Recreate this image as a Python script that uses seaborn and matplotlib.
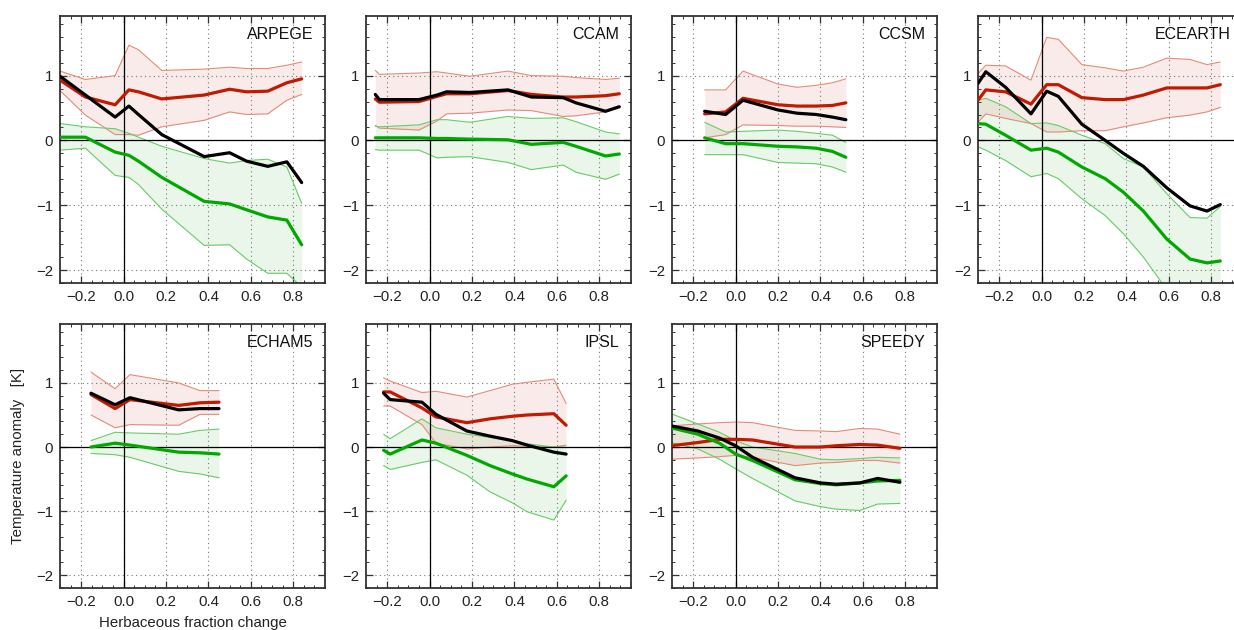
import numpy as np
import pandas as pd
import matplotlib
matplotlib.use("Agg")
import matplotlib.pyplot as plt
from matplotlib.ticker import FixedLocator, MultipleLocator, FuncFormatter
import seaborn as sns

# ---------------- data ----------------
models = ["ARPEGE", "CCAM", "CCSM", "ECEARTH", "ECHAM5", "IPSL", "SPEEDY"]

ARPEGE_x = [-0.30, -0.18, -0.04, 0.025, 0.07, 0.18, 0.38, 0.50, 0.58, 0.68, 0.77, 0.84]
ARPEGE_red = [0.93, 0.67, 0.55, 0.78, 0.75, 0.64, 0.70, 0.79, 0.75, 0.76, 0.89, 0.95]
ARPEGE_red_hi = [1.07, 0.94, 1.00, 1.47, 1.40, 1.08, 1.10, 1.13, 1.11, 1.11, 1.16, 1.21]
ARPEGE_red_lo = [0.77, 0.39, 0.09, 0.09, 0.08, 0.21, 0.31, 0.44, 0.40, 0.41, 0.62, 0.71]
ARPEGE_black = [0.99, 0.70, 0.36, 0.53, 0.40, 0.09, -0.25, -0.19, -0.32, -0.40, -0.33, -0.65]
ARPEGE_green = [0.05, 0.05, -0.18, -0.23, -0.32, -0.57, -0.94, -0.98, -1.07, -1.18, -1.23, -1.61]
ARPEGE_green_hi = [0.26, 0.21, 0.18, 0.11, 0.05, -0.09, -0.28, -0.35, -0.31, -0.29, -0.41, -0.97]
ARPEGE_green_lo = [-0.15, -0.12, -0.54, -0.57, -0.68, -1.06, -1.62, -1.61, -1.83, -2.05, -2.05, -2.26]

CCAM_x = [-0.256, -0.237, -0.05, 0.035, 0.08, 0.19, 0.37, 0.48, 0.63, 0.69, 0.83, 0.895]
CCAM_red = [0.64, 0.59, 0.60, 0.68, 0.72, 0.72, 0.77, 0.71, 0.67, 0.67, 0.69, 0.72]
CCAM_red_hi = [1.08, 1.02, 1.04, 1.06, 1.04, 0.99, 1.07, 1.00, 0.99, 0.97, 0.94, 0.96]
CCAM_red_lo = [0.23, 0.19, 0.16, 0.30, 0.41, 0.42, 0.47, 0.46, 0.37, 0.38, 0.44, 0.52]
CCAM_black = [0.71, 0.63, 0.63, 0.70, 0.75, 0.74, 0.78, 0.67, 0.66, 0.58, 0.45, 0.52]
CCAM_green = [0.04, 0.04, 0.04, 0.03, 0.03, 0.02, 0.01, -0.06, -0.03, -0.09, -0.24, -0.21]
CCAM_green_hi = [0.22, 0.21, 0.24, 0.32, 0.32, 0.28, 0.37, 0.34, 0.35, 0.29, 0.13, 0.10]
CCAM_green_lo = [-0.14, -0.15, -0.15, -0.27, -0.26, -0.25, -0.34, -0.45, -0.38, -0.49, -0.60, -0.52]

CCSM_x = [-0.146, -0.047, 0.035, 0.20, 0.29, 0.38, 0.457, 0.52]
CCSM_red = [0.41, 0.44, 0.65, 0.55, 0.53, 0.53, 0.54, 0.58]
CCSM_red_hi = [0.78, 0.78, 1.07, 0.87, 0.82, 0.85, 0.89, 0.95]
CCSM_red_lo = [0.04, 0.09, 0.24, 0.23, 0.22, 0.22, 0.21, 0.20]
CCSM_black = [0.45, 0.40, 0.62, 0.47, 0.42, 0.40, 0.36, 0.32]
CCSM_green = [0.04, -0.05, -0.05, -0.09, -0.10, -0.12, -0.17, -0.26]
CCSM_green_hi = [0.28, 0.13, 0.14, 0.16, 0.14, 0.11, 0.08, -0.03]
CCSM_green_lo = [-0.22, -0.22, -0.22, -0.34, -0.35, -0.36, -0.41, -0.49]

ECEARTH_x = [-0.30, -0.263, -0.17, -0.05, 0.024, 0.079, 0.19, 0.30, 0.386, 0.48, 0.59, 0.70, 0.78, 0.843]
ECEARTH_red = [0.62, 0.78, 0.75, 0.56, 0.86, 0.86, 0.66, 0.63, 0.63, 0.70, 0.81, 0.81, 0.81, 0.86]
ECEARTH_red_hi = [1.03, 1.16, 1.15, 0.93, 1.59, 1.56, 1.17, 1.12, 1.07, 1.13, 1.27, 1.25, 1.17, 1.21]
ECEARTH_red_lo = [0.28, 0.41, 0.34, 0.26, 0.13, 0.13, 0.15, 0.15, 0.21, 0.27, 0.35, 0.39, 0.44, 0.51]
ECEARTH_black = [0.88, 1.06, 0.82, 0.41, 0.76, 0.68, 0.25, 0.00, -0.20, -0.40, -0.73, -1.01, -1.09, -0.99]
ECEARTH_green = [0.26, 0.25, 0.08, -0.15, -0.12, -0.18, -0.41, -0.59, -0.80, -1.09, -1.52, -1.83, -1.89, -1.86]
ECEARTH_green_hi = [0.62, 0.65, 0.52, 0.26, 0.27, 0.23, 0.08, -0.05, -0.28, -0.41, -0.82, -1.19, -1.20, -1.02]
ECEARTH_green_lo = [-0.10, -0.15, -0.31, -0.56, -0.51, -0.59, -0.90, -1.16, -1.44, -1.80, -2.30, -2.60, -2.70, -2.75]

ECHAM5_x = [-0.154, -0.04, 0.03, 0.26, 0.36, 0.45]
ECHAM5_red = [0.82, 0.60, 0.74, 0.65, 0.69, 0.70]
ECHAM5_red_hi = [1.17, 0.91, 1.13, 1.00, 0.88, 0.88]
ECHAM5_red_lo = [0.50, 0.30, 0.35, 0.34, 0.51, 0.51]
ECHAM5_black = [0.84, 0.66, 0.77, 0.58, 0.60, 0.60]
ECHAM5_green = [0.00, 0.06, 0.03, -0.08, -0.09, -0.11]
ECHAM5_green_hi = [0.10, 0.23, 0.22, 0.20, 0.26, 0.28]
ECHAM5_green_lo = [-0.10, -0.12, -0.16, -0.38, -0.42, -0.48]

IPSL_x = [-0.217, -0.186, -0.036, 0.03, 0.176, 0.285, 0.39, 0.46, 0.586, 0.644]
IPSL_red = [0.86, 0.86, 0.61, 0.47, 0.38, 0.44, 0.48, 0.50, 0.52, 0.34]
IPSL_red_hi = [1.08, 1.03, 0.85, 0.87, 0.78, 0.88, 0.98, 1.01, 1.06, 0.68]
IPSL_red_lo = [0.64, 0.64, 0.35, 0.06, -0.03, 0.00, 0.02, 0.01, 0.00, 0.03]
IPSL_black = [0.84, 0.74, 0.70, 0.51, 0.25, 0.17, 0.10, 0.03, -0.08, -0.11]
IPSL_green = [-0.05, -0.11, 0.11, 0.06, -0.13, -0.29, -0.42, -0.50, -0.62, -0.45]
IPSL_green_hi = [0.20, 0.13, 0.44, 0.30, 0.20, 0.15, 0.10, 0.05, 0.00, 0.00]
IPSL_green_lo = [-0.29, -0.35, -0.24, -0.20, -0.44, -0.70, -0.87, -1.01, -1.14, -0.83]

SPEEDY_x = [-0.304, -0.178, -0.076, 0.0, 0.08, 0.28, 0.40, 0.475, 0.586, 0.67, 0.775]
SPEEDY_red = [0.02, 0.07, 0.12, 0.12, 0.11, 0.00, 0.00, 0.02, 0.04, 0.03, -0.02]
SPEEDY_red_hi = [0.33, 0.36, 0.38, 0.39, 0.38, 0.26, 0.25, 0.24, 0.29, 0.28, 0.20]
SPEEDY_red_lo = [-0.19, -0.17, -0.15, -0.13, -0.16, -0.29, -0.25, -0.24, -0.21, -0.21, -0.25]
SPEEDY_black = [0.33, 0.25, 0.14, 0.02, -0.16, -0.48, -0.56, -0.58, -0.56, -0.49, -0.55]
SPEEDY_green = [0.30, 0.20, 0.06, -0.11, -0.21, -0.51, -0.57, -0.59, -0.56, -0.53, -0.52]
SPEEDY_green_hi = [0.52, 0.36, 0.23, 0.10, 0.00, -0.10, -0.19, -0.20, -0.18, -0.16, -0.17]
SPEEDY_green_lo = [0.07, -0.03, -0.19, -0.34, -0.49, -0.84, -0.93, -0.97, -0.99, -0.89, -0.88]

x_ticks = [-0.2, 0.0, 0.2, 0.4, 0.6, 0.8]
y_ticks = [-2, -1, 0, 1]
x_label = "Herbaceous fraction change"
y_label = "Temperature anomaly   [K]"

# ---------------- styling ----------------
sns.set_theme(style="ticks")
plt.rcParams["font.family"] = ["Liberation Sans", "DejaVu Sans"]
plt.rcParams["axes.unicode_minus"] = True

RED = "#c01a00"
RED_EDGE = "#e58a78"
RED_FILL = "#d04040"
GREEN = "#00a800"
GREEN_EDGE = "#66cc66"
GREEN_FILL = "#30b030"

W, H = 1234, 630
fig = plt.figure(figsize=(W / 100, H / 100), dpi=100)

col_left = [60, 366, 672, 978]
ax_w = 265
rows = [(16, 283), (324, 588)]

g = globals()
for i, name in enumerate(models):
    r, c = divmod(i, 4)
    top, bot = rows[r]
    ax = fig.add_axes([col_left[c] / W, 1 - bot / H, ax_w / W, (bot - top) / H])

    x = np.array(g[f"{name}_x"])
    df = pd.DataFrame({
        "x": np.tile(x, 3),
        "y": np.concatenate([g[f"{name}_red"], g[f"{name}_green"], g[f"{name}_black"]]),
        "series": np.repeat(["red", "green", "black"], len(x)),
    })

    # bands
    ax.fill_between(x, g[f"{name}_red_lo"], g[f"{name}_red_hi"], color=RED_FILL,
                    alpha=0.1, lw=0, zorder=1)
    ax.fill_between(x, g[f"{name}_green_lo"], g[f"{name}_green_hi"], color=GREEN_FILL,
                    alpha=0.1, lw=0, zorder=1)
    for key, col in [("red_lo", RED_EDGE), ("red_hi", RED_EDGE),
                     ("green_lo", GREEN_EDGE), ("green_hi", GREEN_EDGE)]:
        sns.lineplot(x=x, y=g[f"{name}_{key}"], ax=ax, color=col, lw=0.8,
                     sort=False, estimator=None, zorder=2)

    # zero lines
    ax.axhline(0, color="black", lw=0.9, zorder=3)
    ax.axvline(0, color="black", lw=0.9, zorder=3)

    sns.lineplot(data=df, x="x", y="y", hue="series",
                 palette={"red": RED, "green": GREEN, "black": "black"},
                 hue_order=["red", "green", "black"],
                 lw=2.3, sort=False, estimator=None, legend=False, ax=ax, zorder=4)

    ax.set_xlim(-0.3, 0.95)
    ax.set_ylim(-2.2, 1.92)
    ax.xaxis.set_major_locator(FixedLocator(x_ticks))
    ax.yaxis.set_major_locator(FixedLocator(y_ticks))
    ax.xaxis.set_minor_locator(MultipleLocator(0.05))
    ax.yaxis.set_minor_locator(MultipleLocator(0.2))
    ax.xaxis.set_major_formatter(FuncFormatter(lambda v, p: f"{v:.1f}".replace("-", "\u2212")))
    ax.yaxis.set_major_formatter(FuncFormatter(lambda v, p: f"{int(round(v))}".replace("-", "\u2212")))
    ax.grid(True, which="major", linestyle=(0, (1, 3)), color="#777777", lw=0.8)
    ax.tick_params(which="both", direction="in", top=True, right=True,
                   color="#333333", labelsize=10.8, labelcolor="#222222")
    ax.tick_params(which="major", length=5, width=0.9, pad=5)
    ax.tick_params(which="minor", length=2.5, width=0.7)
    for s in ax.spines.values():
        s.set_color("#333333")
        s.set_linewidth(1.3)
    ax.set_xlabel("")
    ax.set_ylabel("")
    ax.text(0.955, 0.96, name, transform=ax.transAxes, ha="right", va="top",
            fontsize=11.5, color="#111111", zorder=6)

fig.text(192.5 / W, 1 - 623 / H, x_label, ha="center", va="center", fontsize=10.8, color="#222222")
fig.text(18 / W, 1 - 456 / H, y_label, ha="center", va="center", rotation=90,
         fontsize=10.8, color="#222222")

fig.savefig("out.png", dpi=100)
